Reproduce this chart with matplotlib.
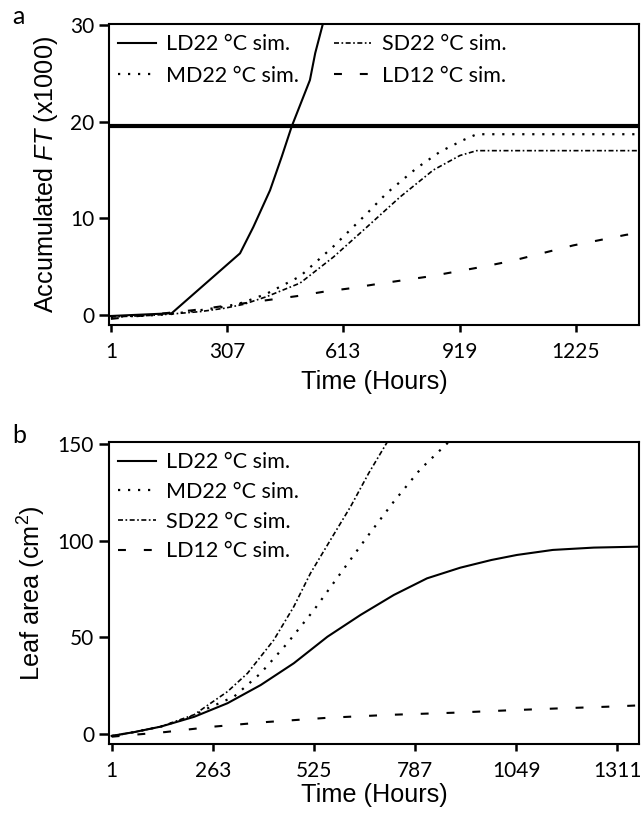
import matplotlib.pyplot as plt
from matplotlib import font_manager

# ---- panel a: accumulated FT (x1000) ----
A_TICKS = [1, 307, 613, 919, 1225]
A_LD22_H = [1, 161, 341, 376, 420, 451, 477, 499, 525, 539, 559]
A_LD22_V = [-0.1, 0.18, 6.38, 9.1, 12.9, 16.4, 19.5, 21.7, 24.3, 27.1, 30.1]
A_MD22_H = [1, 100, 160, 236, 300, 350, 411, 499, 587, 631, 675, 727, 806, 868, 929, 964, 1392]
A_MD22_V = [-0.2, -0.05, 0.1, 0.5, 0.85, 1.3, 2.2, 4.0, 7.1, 8.8, 10.5, 12.6, 15.2, 16.9, 18.1, 18.7, 18.7]
A_SD22_H = [1, 100, 160, 236, 300, 350, 411, 499, 587, 675, 762, 850, 920, 964, 1392]
A_SD22_V = [-0.2, -0.05, 0.1, 0.35, 0.7, 1.1, 1.9, 3.3, 6.0, 9.1, 12.2, 15.0, 16.5, 17.0, 17.0]
A_LD12_H = [1, 100, 218, 349, 490, 560, 631, 701, 771, 841, 911, 981, 1057, 1218, 1358, 1392]
A_LD12_V = [-0.4, 0.0, 0.5, 1.2, 1.95, 2.4, 2.76, 3.2, 3.6, 4.0, 4.5, 5.0, 5.6, 7.2, 8.3, 8.45]
FT_THRESHOLD = 19.6

# ---- panel b: leaf area (cm2) ----
B_TICKS = [1, 263, 525, 787, 1049, 1311]
B_LD22_H = [1, 60, 128, 215, 301, 387, 473, 560, 646, 732, 818, 904, 985, 1051, 1144, 1250, 1368]
B_LD22_V = [-1.0, 1.0, 3.8, 8.9, 15.9, 25.3, 36.6, 50.3, 61.6, 71.9, 80.5, 86.0, 90.0, 92.6, 95.2, 96.4, 96.9]
B_MD22_H = [1, 60, 128, 215, 240, 318, 387, 456, 525, 594, 663, 732, 801, 874]
B_MD22_V = [-1.0, 1.0, 3.8, 9.5, 12.4, 19.3, 31.4, 46.9, 64.1, 83.1, 102.0, 120.2, 137.0, 151.0]
B_SD22_H = [1, 60, 128, 215, 240, 301, 353, 421, 473, 516, 568, 620, 667, 715]
B_SD22_V = [-1.0, 1.0, 3.8, 10.0, 13.5, 21.9, 31.4, 48.6, 65.9, 83.1, 100.4, 117.6, 134.9, 151.0]
B_LD12_H = [1, 140, 265, 403, 562, 721, 887, 1025, 1154, 1284, 1368]
B_LD12_V = [-1.4, 1.0, 3.8, 6.2, 8.4, 9.9, 11.0, 12.2, 13.2, 14.1, 14.8]

LABELS = ["LD22 \u00b0C sim.", "MD22 \u00b0C sim.", "SD22 \u00b0C sim.", "LD12 \u00b0C sim."]

# axis titles in the original use a narrow sans; take the narrowest one we have
installed = {f.name for f in font_manager.fontManager.ttflist}
if "Liberation Sans Narrow" in installed:
    NARROW, LABEL_SIZE = "Liberation Sans Narrow", 20
else:
    NARROW, LABEL_SIZE = "Liberation Sans", 18.2
SOFT = ["Lato", "DejaVu Sans"]

plt.rcParams["mathtext.fontset"] = "custom"
plt.rcParams["mathtext.rm"] = NARROW
plt.rcParams["mathtext.it"] = NARROW + ":italic"

STY_SOLID = dict(color="black", lw=1.5, ls="-")
STY_DOT = dict(color="black", lw=1.6, ls=(0, (1, 3.5)))
STY_DASHDOT = dict(color="black", lw=1.2, ls=(0, (3, 1.5, 1, 1.5)))
STY_DASH = dict(color="black", lw=1.5, ls=(0, (3.8, 8.6)))

fig = plt.figure(figsize=(6.42, 8.25), dpi=100)
ax_a = fig.add_axes([0.1703, 0.6061, 0.8255, 0.3648])
ax_b = fig.add_axes([0.1703, 0.0982, 0.8255, 0.3660])


def style_axes(ax, ticks, ylabel, xpad):
    for s in ax.spines.values():
        s.set_linewidth(1.5)
    ax.set_xticks(ticks)
    ax.tick_params(axis="x", length=5, width=1.8, pad=7, labelsize=15)
    ax.tick_params(axis="y", length=7, width=1.8, pad=4, labelsize=15)
    for lab in ax.get_xticklabels() + ax.get_yticklabels():
        lab.set_family(SOFT)
    ax.set_xlabel("Time (Hours)", fontsize=LABEL_SIZE, family=NARROW, labelpad=xpad)
    ax.set_ylabel(ylabel, fontsize=LABEL_SIZE, family=NARROW, labelpad=7)


LEG = dict(loc="upper left", bbox_to_anchor=(0.0, 0.995), frameon=False,
           prop={"family": SOFT, "size": 15.5}, handlelength=1.75,
           handletextpad=0.5, borderpad=0.2, borderaxespad=0.2)

# panel a
ax_a.axhline(FT_THRESHOLD, color="black", lw=3.0, zorder=1)
ax_a.plot(A_LD22_H, A_LD22_V, label=LABELS[0], **STY_SOLID)
ax_a.plot(A_MD22_H, A_MD22_V, label=LABELS[1], **STY_DOT)
ax_a.plot(A_SD22_H, A_SD22_V, label=LABELS[2], **STY_DASHDOT)
ax_a.plot(A_LD12_H, A_LD12_V, label=LABELS[3], **STY_DASH)
ax_a.set_xlim(-3, 1392)
ax_a.set_ylim(-1.03, 30.1)
ax_a.set_yticks([0, 10, 20, 30])
style_axes(ax_a, A_TICKS, "Accumulated $\\mathit{FT}$ (x1000)", xpad=6)
ax_a.legend(ncol=2, columnspacing=1.6, labelspacing=0.55, **LEG)

# panel b
ax_b.plot(B_LD22_H, B_LD22_V, label=LABELS[0], **STY_SOLID)
ax_b.plot(B_MD22_H, B_MD22_V, label=LABELS[1], **STY_DOT)
ax_b.plot(B_SD22_H, B_SD22_V, label=LABELS[2], **STY_DASHDOT)
ax_b.plot(B_LD12_H, B_LD12_V, label=LABELS[3], **STY_DASH)
ax_b.set_xlim(-5, 1368)
ax_b.set_ylim(-5.17, 151)
ax_b.set_yticks([0, 50, 100, 150])
style_axes(ax_b, B_TICKS, "Leaf area (cm$^2$)", xpad=2)
ax_b.legend(labelspacing=0.45, **LEG)

fig.text(12 / 642, 1 - 17 / 825, "a", fontsize=18, family=SOFT, va="center")
fig.text(12 / 642, 1 - 436 / 825, "b", fontsize=18, family=SOFT, va="center")

fig.savefig("out.png", dpi=100)
